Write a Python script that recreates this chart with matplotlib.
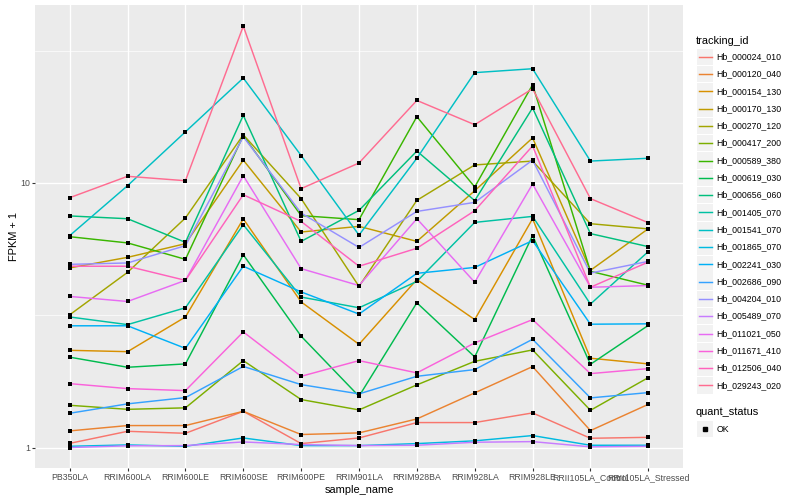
import matplotlib
matplotlib.use('Agg')
import matplotlib.pyplot as plt
import numpy as np
from matplotlib.lines import Line2D
from matplotlib.patches import Rectangle
from matplotlib.ticker import FixedLocator, NullFormatter

plt.rcParams['font.family'] = ['Liberation Sans', 'DejaVu Sans']

samples = ['PB350LA', 'RRIM600LA', 'RRIM600LE', 'RRIM600SE', 'RRIM600PE', 'RRIM901LA',
           'RRIM928BA', 'RRIM928LA', 'RRIM928LE', 'RRII105LA_Control', 'RRII105LA_Stressed']

tracking_ids = ['Hb_000024_010', 'Hb_000120_040', 'Hb_000154_130', 'Hb_000170_130',
                'Hb_000270_120', 'Hb_000417_200', 'Hb_000589_380', 'Hb_000619_030',
                'Hb_000656_060', 'Hb_001405_070', 'Hb_001541_070', 'Hb_001865_070',
                'Hb_002241_030', 'Hb_002686_090', 'Hb_004204_010', 'Hb_005489_070',
                'Hb_011021_050', 'Hb_011671_410', 'Hb_012506_040', 'Hb_029243_020']

# ggplot hue palette for 20 groups
colors = ['#F8766D', '#EA8331', '#D89000', '#C09B00', '#A3A500', '#7CAE00', '#39B600',
          '#00BB4E', '#00BF7D', '#00C1A3', '#00BFC4', '#00BAE0', '#00B0F6', '#35A2FF',
          '#9590FF', '#C77CFF', '#E76BF3', '#FA62DB', '#FF62BC', '#FF6C91']

# FPKM + 1 per sample
hb_000024_010 = [1.04, 1.155, 1.135, 1.374, 1.038, 1.09, 1.246, 1.246, 1.355, 1.087, 1.096]
hb_000120_040 = [1.159, 1.214, 1.214, 1.374, 1.123, 1.139, 1.286, 1.613, 2.027, 1.162, 1.46]
hb_000154_130 = [2.335, 2.308, 3.12, 7.32, 3.556, 2.46, 4.32, 3.05, 7.33, 2.18, 2.075]
hb_000170_130 = [4.78, 5.24, 5.90, 12.2, 6.53, 6.86, 6.02, 9.35, 14.8, 4.68, 6.72]
hb_000270_120 = [3.18, 4.60, 7.38, 15.2, 8.73, 4.07, 8.60, 11.7, 12.1, 7.02, 6.71]
hb_000417_200 = [1.448, 1.398, 1.416, 2.135, 1.522, 1.391, 1.729, 2.122, 2.343, 1.386, 1.842]
hb_000589_380 = [6.27, 5.94, 5.15, 15.1, 7.53, 7.27, 17.8, 9.66, 23.5, 4.64, 4.11]
hb_000619_030 = [2.20, 2.015, 2.075, 5.36, 2.64, 1.566, 3.53, 2.205, 6.33, 2.068, 2.90]
hb_000656_060 = [7.51, 7.33, 5.97, 18.0, 6.02, 7.88, 13.2, 8.58, 19.2, 6.44, 5.75]
hb_001405_070 = [3.12, 2.92, 3.38, 6.96, 3.71, 3.38, 4.25, 7.10, 7.48, 3.49, 5.51]
hb_001541_070 = [6.33, 9.77, 15.6, 24.9, 12.7, 6.36, 12.4, 26.1, 27.0, 12.1, 12.4]
hb_001865_070 = [1.014, 1.026, 1.014, 1.09, 1.02, 1.02, 1.038, 1.063, 1.113, 1.023, 1.023]
hb_002241_030 = [2.89, 2.89, 2.375, 4.85, 3.88, 3.20, 4.56, 4.80, 6.06, 2.93, 2.94]
hb_002686_090 = [1.351, 1.466, 1.548, 2.03, 1.733, 1.599, 1.863, 1.975, 2.57, 1.544, 1.617]
hb_004204_010 = [4.93, 4.99, 5.80, 14.95, 7.70, 5.71, 7.81, 8.45, 12.2, 4.57, 5.06]
hb_005489_070 = [1.003, 1.018, 1.02, 1.053, 1.029, 1.02, 1.023, 1.05, 1.056, 1.009, 1.014]
hb_011021_050 = [3.73, 3.57, 4.29, 10.65, 4.75, 4.10, 7.33, 4.22, 9.91, 4.04, 4.10]
hb_011671_410 = [1.748, 1.674, 1.645, 2.74, 1.863, 2.135, 1.919, 2.49, 3.05, 1.907, 1.992]
hb_012506_040 = [4.85, 4.85, 4.29, 9.03, 7.16, 4.85, 5.67, 7.86, 13.8, 4.04, 5.03]
hb_029243_020 = [8.80, 10.6, 10.2, 39.1, 9.52, 11.9, 20.5, 16.6, 22.7, 8.73, 7.08]

series = [hb_000024_010, hb_000120_040, hb_000154_130, hb_000170_130, hb_000270_120,
          hb_000417_200, hb_000589_380, hb_000619_030, hb_000656_060, hb_001405_070,
          hb_001541_070, hb_001865_070, hb_002241_030, hb_002686_090, hb_004204_010,
          hb_005489_070, hb_011021_050, hb_011671_410, hb_012506_040, hb_029243_020]

W, H = 800, 500
fig = plt.figure(figsize=(8, 5), dpi=100)
ax = fig.add_axes([35 / W, 1 - 468 / H, 648 / W, 463 / H])
ax.set_facecolor('#EBEBEB')
for s in ax.spines.values():
    s.set_visible(False)

x = np.arange(len(samples))
for vals, c in zip(series, colors):
    ax.plot(x, vals, color=c, lw=1.05, zorder=2)
for vals in series:
    ax.scatter(x, vals, marker='s', s=5, color='black', linewidths=0, zorder=3)

ax.set_yscale('log')
ax.set_ylim(10 ** -0.076, 10 ** 1.672)
ax.set_xlim(-0.6, len(samples) - 0.4)
ax.yaxis.set_major_locator(FixedLocator([1, 10]))
ax.set_yticklabels(['1', '10'])
ax.yaxis.set_minor_locator(FixedLocator([10 ** 0.5, 10 ** 1.5]))
ax.yaxis.set_minor_formatter(NullFormatter())
ax.set_xticks(x)
ax.set_xticklabels(samples)
ax.tick_params(axis='both', which='major', length=2.0, width=0.8, color='#333333',
               labelcolor='#4D4D4D', labelsize=6.3, pad=1.6)
ax.tick_params(axis='y', which='minor', length=0)
ax.grid(True, which='major', color='white', lw=1.0, zorder=0)
ax.grid(True, which='minor', axis='y', color='white', lw=0.5, zorder=0)
ax.set_axisbelow(True)

ax.set_xlabel('sample_name', fontsize=7.9, color='black', labelpad=2)
ax.set_ylabel('FPKM + 1', fontsize=7.9, color='black', labelpad=0.6)


def fx(px):
    return px / W


def fy(py):
    return 1 - py / H


# legend: tracking_id
fig.text(fx(696), fy(40.5), 'tracking_id', fontsize=7.9, va='center', ha='left')
step = 17.3
for i, (tid, c) in enumerate(zip(tracking_ids, colors)):
    cy = 56.7 + i * step
    fig.add_artist(Rectangle((fx(696.5), fy(cy + 8.2)), 16.3 / W, 16.4 / H,
                             facecolor='#F2F2F2', edgecolor='none'))
    fig.add_artist(Line2D([fx(698.5), fx(711.5)], [fy(cy), fy(cy)], color=c, lw=1.05))
    fig.text(fx(716.5), fy(cy), tid, fontsize=6.3, va='center', ha='left')

# legend: quant_status
fig.text(fx(696), fy(412.3), 'quant_status', fontsize=7.9, va='center', ha='left')
fig.add_artist(Rectangle((fx(696.5), fy(429 + 8.2)), 16.3 / W, 16.4 / H,
                         facecolor='#F2F2F2', edgecolor='none'))
fig.add_artist(Line2D([fx(704.7)], [fy(429)], marker='s', markersize=2.4, color='black', lw=0))
fig.text(fx(716.5), fy(429), 'OK', fontsize=6.3, va='center', ha='left')

fig.savefig('out.png', dpi=100, facecolor='white')
